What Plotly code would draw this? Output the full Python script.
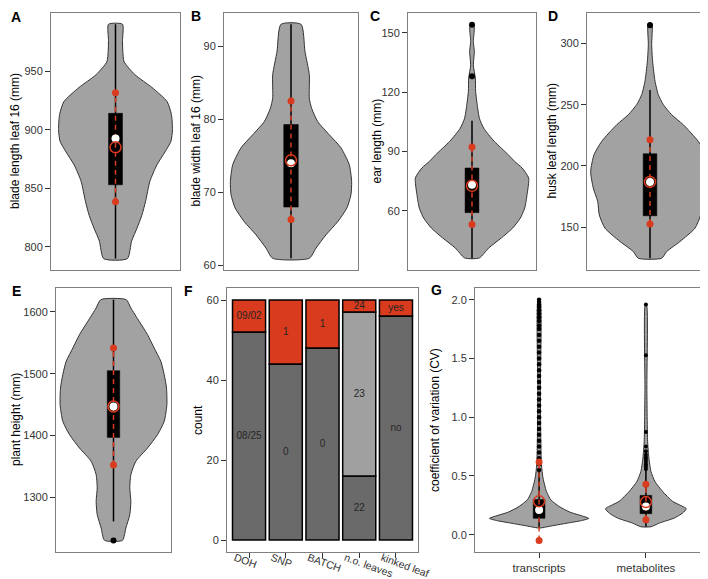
import plotly.graph_objects as go

W, H = 708, 579
RED = '#d83b1e'
VIOLIN = '#a2a2a2'
DARK = '#6a6a6a'
LIGHT = '#a0a0a0'
FONT = 'Liberation Sans, Arial, sans-serif'

# --- A: blade length leaf 16 (violin profile: value, half width) ---
blade_len_y = [790, 805, 816, 827, 839, 856, 870, 881, 890, 900, 913, 924, 936, 947, 958, 967, 976, 990]
blade_len_w = [0.11, 0.15, 0.20, 0.245, 0.28, 0.32, 0.385, 0.46, 0.515, 0.53, 0.52, 0.48, 0.34, 0.18, 0.08, 0.068, 0.065, 0.065]
blade_len_box = [853, 892.6, 914]
blade_len_whisk = [790, 990]
blade_len_mean, blade_len_sd = 885, 46.5
blade_len_out = []

# --- B: blade width leaf 16 ---
blade_wid_y = [61, 62.4, 64.2, 66, 67.9, 69.7, 71.5, 73.8, 76.1, 77.9, 79.7, 81.5, 82.9, 86.1, 89.3, 93]
blade_wid_w = [0.164, 0.224, 0.313, 0.418, 0.501, 0.537, 0.543, 0.522, 0.448, 0.343, 0.239, 0.185, 0.164, 0.164, 0.125, 0.09]
blade_wid_box = [68.0, 74.0, 79.3]
blade_wid_whisk = [61, 93]
blade_wid_mean, blade_wid_sd = 74.4, 8.1
blade_wid_out = []

# --- C: ear length ---
ear_len_y = [36.1, 41.1, 46.2, 51.2, 56.3, 61.3, 68.1, 76.5, 81.6, 84.9, 88.3, 95, 98.4, 101.8, 106.8, 111.9,
             120.3, 127.1, 133.8, 140.5, 145.6, 152.3, 154]
ear_len_w = [0.069, 0.156, 0.275, 0.381, 0.453, 0.494, 0.516, 0.531, 0.47, 0.40, 0.34, 0.21, 0.156, 0.109, 0.069,
             0.053, 0.034, 0.031, 0.0125, 0.022, 0.0125, 0.022, 0.016]
ear_len_box = [59, 73.1, 81.6]
ear_len_whisk = [36, 105.5]
ear_len_mean, ear_len_sd = 72.6, 19.6
ear_len_out = [128, 154]

# --- D: husk leaf length ---
husk_y = [124.6, 130.1, 138.3, 149.2, 160.1, 171, 181.9, 195.5, 209.2, 220.1, 233.7, 241.9, 250.1, 258.3, 269.2,
          285.5, 299.2, 312.8, 316.9]
husk_w = [0.111, 0.159, 0.286, 0.429, 0.483, 0.498, 0.54, 0.565, 0.533, 0.46, 0.317, 0.206, 0.127, 0.079, 0.048,
          0.025, 0.016, 0.022, 0.016]
husk_box = [159.3, 187, 210]
husk_whisk = [124.6, 262]
husk_mean, husk_sd = 187, 34.5
husk_out = [315]

# --- E: plant height ---
height_y = [1230.4, 1250.4, 1272, 1293.5, 1315.1, 1336.7, 1358.3, 1379.8, 1401.4, 1423, 1450, 1477, 1498.6,
            1520.1, 1541.7, 1563.3, 1584.9, 1606.5, 1620]
height_w = [0.094, 0.129, 0.17, 0.181, 0.17, 0.181, 0.233, 0.355, 0.459, 0.529, 0.557, 0.553, 0.529, 0.494,
            0.424, 0.355, 0.268, 0.181, 0.132]
height_box = [1397, 1447, 1505]
height_whisk = [1261, 1620]
height_mean, height_sd = 1447, 94.5
height_out = [1230]

# --- F: counts per factor level ---
f_cats = ["DOH", "SNP", "BATCH", "n.o. leaves", "kinked leaf"]
f_low = [52, 44, 48, 16, 56]
f_low_lab = ["08/25", "0", "0", "22", "no"]
f_mid = [0, 0, 0, 41, 0]
f_mid_lab = ["", "", "", "23", ""]
f_top = [8, 16, 12, 3, 4]
f_top_lab = ["09/02", "1", "1", "24", "yes"]

# --- G: coefficient of variation ---
g_cats = ["transcripts", "metabolites"]
tr_y = [0.057, 0.079, 0.099, 0.119, 0.139, 0.159, 0.193, 0.241, 0.298, 0.369, 0.482, 0.596, 0.823, 1.248, 2.0]
tr_w = [0.009, 0.14, 0.265, 0.39, 0.465, 0.406, 0.287, 0.187, 0.109, 0.069, 0.037, 0.022, 0.016, 0.012, 0.009]
tr_box = [0.14, 0.21, 0.30]
tr_whisk = [0.057, 0.54]
tr_mean, tr_sd = 0.284, 0.334
tr_out = [0.55, 0.6, 0.65, 0.7, 0.75, 0.8, 0.85, 0.9, 0.95, 1.0, 1.05, 1.1, 1.15, 1.2, 1.25, 1.3, 1.35,
          1.4, 1.45, 1.5, 1.55, 1.6, 1.65, 1.7, 1.75, 1.78, 1.82, 1.85, 1.88, 1.91, 1.94, 1.96, 1.98, 2.0]
met_y = [0.068, 0.099, 0.142, 0.184, 0.221, 0.255, 0.284, 0.369, 0.454, 0.539, 0.653, 0.794, 1.248, 1.957]
met_w = [0.047, 0.125, 0.265, 0.343, 0.378, 0.312, 0.25, 0.156, 0.084, 0.047, 0.028, 0.016, 0.009, 0.006]
met_box = [0.179, 0.24, 0.335]
met_whisk = [0.068, 0.55]
met_mean, met_sd = 0.278, 0.151
met_out = [0.56, 0.58, 0.6, 0.62, 0.64, 0.66, 0.68, 0.71, 0.75, 0.874, 1.527, 1.96]

# panel boxes in pixels: x0, x1, y0, y1 (from top), and y-title centre x
panels = {
    1: (43, 172, 5, 262, 7.5),
    2: (216, 350, 5, 262, 188),
    3: (400, 528, 5, 262, 369),
    4: (579, 705, 5, 262, 544),
    5: (48, 163, 280, 544, 8),
    6: (219, 410, 280, 544, 190),
    7: (467, 702, 280, 544, 427),
}

fig = go.Figure()


def axes(n):
    return ('x', 'y') if n == 1 else (f'x{n}', f'y{n}')


def add_violin(n, xc, ys, ws, box, whisk, mean, sd, outliers, out_size=6, box_half=0.065):
    xa, ya = axes(n)
    xs = [xc + w for w in ws] + [xc - w for w in reversed(ws)]
    yv = list(ys) + list(reversed(ys))
    common = dict(xaxis=xa, yaxis=ya, hoverinfo='skip', showlegend=False)
    fig.add_trace(go.Scatter(x=xs + [xs[0]], y=yv + [yv[0]], mode='lines', fill='toself', fillcolor=VIOLIN,
                             line=dict(color='#333333', width=1, shape='spline', smoothing=0.6), **common))
    fig.add_trace(go.Scatter(x=[xc, xc], y=whisk, mode='lines', line=dict(color='black', width=1.5), **common))
    q1, med, q3 = box
    fig.add_trace(go.Scatter(x=[xc - box_half, xc + box_half, xc + box_half, xc - box_half, xc - box_half],
                             y=[q1, q1, q3, q3, q1], mode='lines', fill='toself', fillcolor='black',
                             line=dict(color='black', width=0.5), **common))
    if outliers:
        fig.add_trace(go.Scatter(x=[xc] * len(outliers), y=outliers, mode='markers',
                                 marker=dict(color='black', size=out_size), **common))
    fig.add_trace(go.Scatter(x=[xc, xc], y=[mean - sd, mean + sd], mode='lines+markers',
                             line=dict(color=RED, width=1.5, dash='5px,4px'),
                             marker=dict(color=RED, size=7), **common))
    fig.add_trace(go.Scatter(x=[xc], y=[med], mode='markers',
                             marker=dict(color='white', size=8), **common))
    fig.add_trace(go.Scatter(x=[xc], y=[mean], mode='markers',
                             marker=dict(color=RED, size=11, symbol='circle-open', line=dict(width=1.5)),
                             **common))


add_violin(1, 1, blade_len_y, blade_len_w, blade_len_box, blade_len_whisk, blade_len_mean, blade_len_sd, blade_len_out)
add_violin(2, 1, blade_wid_y, blade_wid_w, blade_wid_box, blade_wid_whisk, blade_wid_mean, blade_wid_sd, blade_wid_out)
add_violin(3, 1, ear_len_y, ear_len_w, ear_len_box, ear_len_whisk, ear_len_mean, ear_len_sd, ear_len_out)
add_violin(4, 1, husk_y, husk_w, husk_box, husk_whisk, husk_mean, husk_sd, husk_out)
add_violin(5, 1, height_y, height_w, height_box, height_whisk, height_mean, height_sd, height_out)
add_violin(7, 1, tr_y, tr_w, tr_box, tr_whisk, tr_mean, tr_sd, tr_out, out_size=4.5, box_half=0.055)
add_violin(7, 2, met_y, met_w, met_box, met_whisk, met_mean, met_sd, met_out, out_size=4, box_half=0.055)

# stacked bars for F
fx = list(range(1, len(f_cats) + 1))
mid_base = f_low
top_base = [a + b for a, b in zip(f_low, f_mid)]
for vals, base, col in [(f_low, [0] * len(fx), DARK), (f_mid, mid_base, LIGHT), (f_top, top_base, RED)]:
    fig.add_trace(go.Bar(x=fx, y=vals, base=base, width=0.9, marker=dict(color=col, line=dict(color='black', width=1.5)),
                         xaxis='x6', yaxis='y6', showlegend=False, hoverinfo='skip'))
lx, ly, lt = [], [], []
for vals, base, labs in [(f_low, [0] * len(fx), f_low_lab), (f_mid, mid_base, f_mid_lab), (f_top, top_base, f_top_lab)]:
    for i, (v, b, t) in enumerate(zip(vals, base, labs)):
        if v > 0:
            lx.append(fx[i])
            ly.append(b + v / 2)
            lt.append(t)
fig.add_trace(go.Scatter(x=lx, y=ly, text=lt, mode='text', textfont=dict(size=10, color='#262626', family=FONT),
                         xaxis='x6', yaxis='y6', showlegend=False, hoverinfo='skip'))

base_ax = dict(showline=True, mirror=True, linecolor='#7f7f7f', linewidth=1, showgrid=False, zeroline=False,
               ticks='outside', ticklen=5, tickcolor='#333333', automargin=False,
               tickfont=dict(size=11, color='#333333', family=FONT))

y_info = {
    1: ([780.3, 999.6], [800, 850, 900, 950], None, 'blade length leaf 16 (mm)'),
    2: ([59.4, 94.55], [60, 70, 80, 90], None, 'blade width leaf 16 (mm)'),
    3: ([30, 160], [60, 90, 120, 150], None, 'ear length (mm)'),
    4: ([115, 325], [150, 200, 250, 300], None, 'husk leaf length (mm)'),
    5: ([1211.5, 1638.8], [1300, 1400, 1500, 1600], None, 'plant height (mm)'),
    6: ([-3, 63], [0, 20, 40, 60], None, 'count'),
    7: ([-0.147, 2.1], [0, 0.5, 1, 1.5, 2], ['0.0', '0.5', '1.0', '1.5', '2.0'], 'coefficient of variation (CV)'),
}

layout_axes = {}
annotations = []
for n, (x0, x1, y0, y1, tx) in panels.items():
    xa = 'xaxis' if n == 1 else f'xaxis{n}'
    ya = 'yaxis' if n == 1 else f'yaxis{n}'
    xd = [x0 / W, x1 / W]
    yd = [1 - y1 / H, 1 - y0 / H]
    rng, tv, tt, title = y_info[n]
    yax = dict(base_ax, domain=yd, anchor=xa.replace('axis', ''), range=rng, tickvals=tv)
    if tt:
        yax['ticktext'] = tt
    layout_axes[ya] = yax
    annotations.append(dict(text=title, x=tx / W, y=1 - (y0 + y1) / 2 / H, xref='paper', yref='paper',
                            showarrow=False, textangle=-90, xanchor='center', yanchor='middle',
                            font=dict(size=12, color='black', family=FONT)))
    if n <= 5:
        xax = dict(base_ax, domain=xd, anchor=ya.replace('axis', ''), range=[0.4, 1.6], ticks='',
                   showticklabels=False)
    elif n == 6:
        xax = dict(base_ax, domain=xd, anchor='y6', range=[0.4, 5.6], tickvals=fx, ticktext=f_cats,
                   tickangle=20, ticklabelshift=-14, ticklabelstandoff=-10,
                   tickfont=dict(size=10.5, color='#333333', family=FONT))
    else:
        xax = dict(base_ax, domain=xd, anchor='y7', range=[0.4, 2.6], tickvals=[1, 2], ticktext=g_cats,
                   tickfont=dict(size=11.5, color='#333333', family=FONT))
    layout_axes[xa] = xax

for letter, (lx_, ly_) in zip('ABCDEFG', [(8, 9), (188, 8), (367, 8), (545, 8), (8, 283), (180, 283), (428, 282)]):
    annotations.append(dict(text=f'<b>{letter}</b>', x=lx_ / W, y=1 - ly_ / H, xref='paper', yref='paper',
                            showarrow=False, xanchor='center', yanchor='middle',
                            font=dict(size=14, color='black', family=FONT)))

fig.update_layout(
    width=W, height=H, margin=dict(l=0, r=0, t=0, b=0),
    paper_bgcolor='white', plot_bgcolor='white', barmode='overlay',
    font=dict(family=FONT), showlegend=False, annotations=annotations,
    **layout_axes,
)

fig.write_html("out.html")
